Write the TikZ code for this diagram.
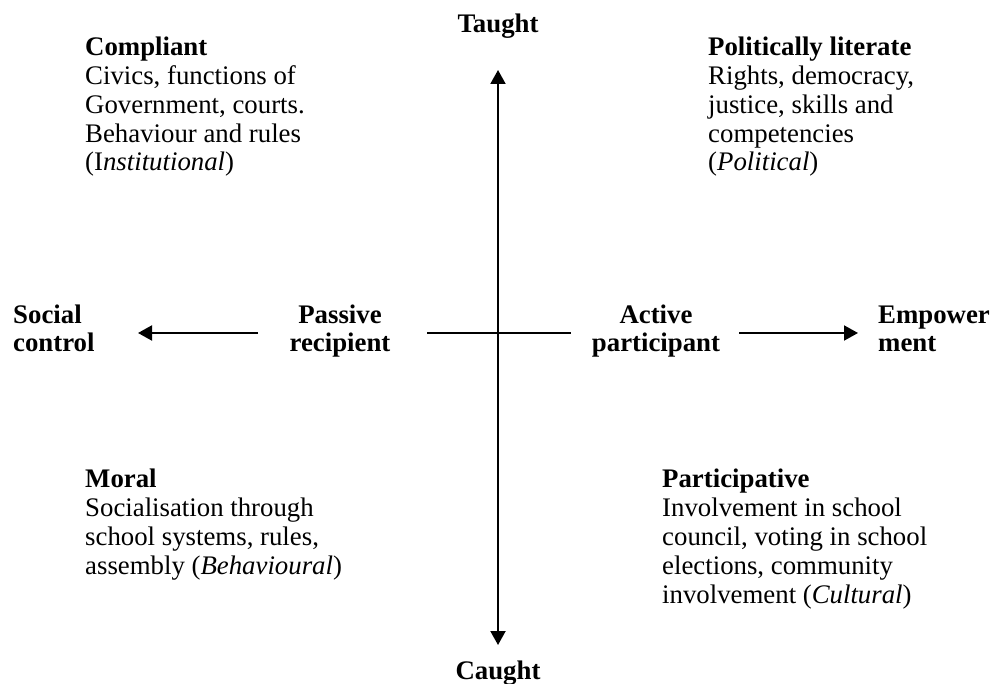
\documentclass[tikz,border=0pt]{standalone}
\usepackage{fontspec}
\setmainfont{Liberation Serif}
\usetikzlibrary{arrows.meta}
\newcommand\textsizeq{\fontsize{26.8}{28.8}\selectfont}
\tikzset{
  arrowline/.style={line width=2pt, -{Triangle[length=14pt,width=15pt]}}, % the four axis arrows
  plainline/.style={line width=2pt},
  pole/.style={font=\textsizeq\bfseries, align=center, inner sep=0pt, anchor=base},
  % base anchor of a multi-line node sits on its last line
  quadrant/.style={font=\textsizeq, align=left, inner sep=0pt, anchor=base west},
}

\begin{document}
\begin{tikzpicture}[x=1pt, y=-1pt]
\useasboundingbox (0,0) rectangle (990,684);

% poles of the two axes
\node[pole] (taught) at (498,33) {Taught};
\node[pole] (caught) at (498,679) {Caught};
\node[pole, align=left, anchor=base west] (social) at (13,352) {Social\\control};
\node[pole] (passive) at (340,352) {Passive\\recipient};
\node[pole] (active) at (656,352) {Active\\participant};
\node[pole, align=left, anchor=base west] (empower) at (878,352) {Empower\\ment};

% the four quadrants
\node[quadrant] (compliant) at (85,171) {\textbf{Compliant}\\Civics, functions of\\Government, courts.\\Behaviour and rules\\(I\textit{nstitutional})};
\node[quadrant] (literate) at (708,171) {\textbf{Politically literate}\\Rights, democracy,\\justice, skills and\\competencies\\(\textit{Political})};
\node[quadrant] (moral) at (85,574) {\textbf{Moral}\\Socialisation through\\school systems, rules,\\assembly (\textit{Behavioural})};
\node[quadrant] (participative) at (662,603) {\textbf{Participative}\\Involvement in school\\council, voting in school\\elections, community\\involvement (\textit{Cultural})};

% arrow ends
\coordinate (up) at (498,70);
\coordinate (down) at (498,645);
\coordinate (left) at (138,333);
\coordinate (leftstart) at (258,333);
\coordinate (right) at (858,333);
\coordinate (rightstart) at (739,333);
\coordinate (crossw) at (427,333);
\coordinate (crosse) at (571,333);

\draw[arrowline, {Triangle[length=14pt,width=15pt]}-{Triangle[length=14pt,width=15pt]}] (up) -- (down);
\draw[plainline] (crossw) -- (crosse);
\draw[arrowline] (leftstart) -- (left);
\draw[arrowline] (rightstart) -- (right);
\end{tikzpicture}
\end{document}
